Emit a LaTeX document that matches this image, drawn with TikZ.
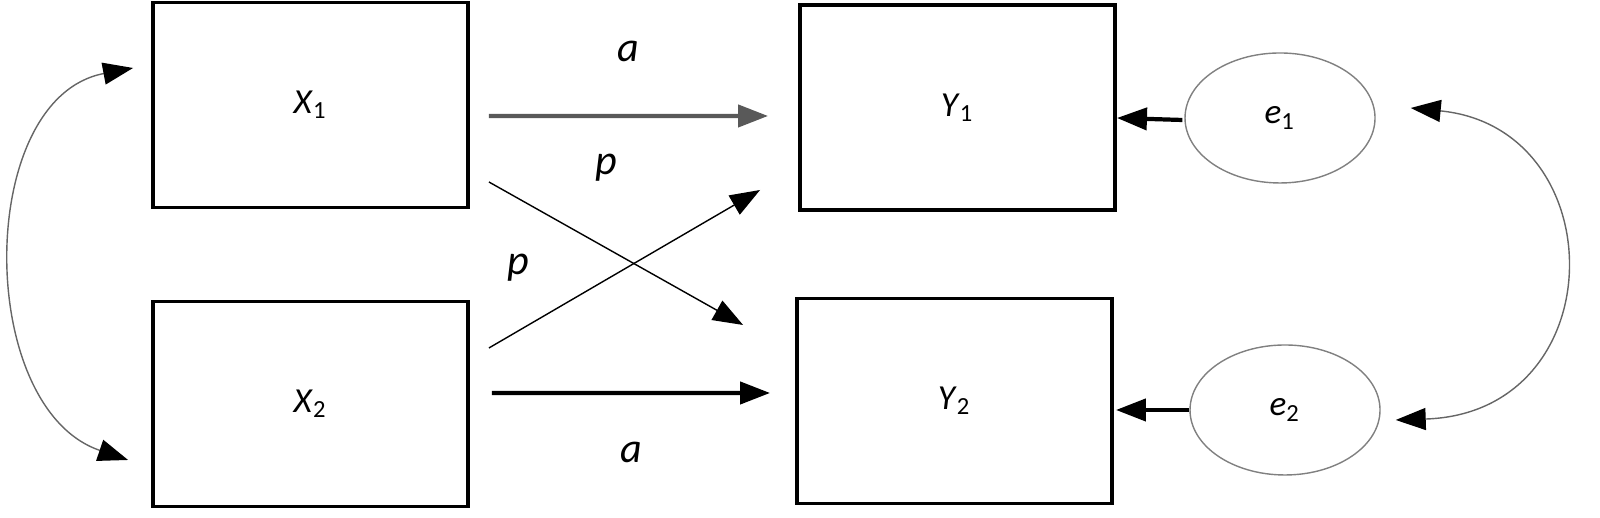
\documentclass[tikz,border=0pt]{standalone}
\usepackage{fontspec}
\setmainfont{Carlito}
\usetikzlibrary{arrows.meta,positioning,shapes.geometric}
\newcommand{\vname}[2]{\textit{#1}\textsubscript{#2}}
\tikzset{
  box/.style={draw,line width=1.1pt,minimum width=3.15cm,minimum height=2.05cm},
  err/.style={draw,gray,ellipse,minimum width=1.9cm,minimum height=1.3cm,text=black},
  path/.style={-{Triangle[length=0.3cm,width=0.22cm]}},
  cov/.style={{Triangle[length=0.3cm,width=0.22cm,black]}-{Triangle[length=0.3cm,width=0.22cm,black]},gray!80!black},
  lab/.style={font=\itshape\large,text=black}
}
\begin{document}
\begin{tikzpicture}
\useasboundingbox (0,0) rectangle (16,5.18);
\node[box] (x1) at (3.105,4.13) {\vname{X}{1}};
\node[box] (x2) at (3.105,1.14) {\vname{X}{2}};
\node[box] (y1) at (9.575,4.105) {\vname{Y}{1}};
\node[box] (y2) at (9.545,1.17) {\vname{Y}{2}};
\node[err] (e1) at (12.8,4.0) {\vname{e}{1}};
\node[err] (e2) at (12.85,1.08) {\vname{e}{2}};
% direct paths
\draw[path,line width=1.2pt,gray!70!black] ([xshift=0.19cm,yshift=-0.11cm]x1.east) -- ([xshift=-0.3cm,yshift=-0.085cm]y1.west) node[lab,midway,above=0.4cm] {a};
\draw[path,line width=1.2pt] ([xshift=0.22cm,yshift=0.11cm]x2.east) -- ([xshift=-0.25cm,yshift=0.08cm]y2.west) node[lab,midway,below=0.35cm] {a};
% cross paths
\draw[path,thin] ([xshift=0.19cm,yshift=-0.77cm]x1.east) -- ([xshift=-0.52cm,yshift=0.76cm]y2.west);
\draw[path,thin] ([xshift=0.19cm,yshift=0.56cm]x2.east) -- ([xshift=-0.38cm,yshift=-0.825cm]y1.west);
\node[lab] (p1) at (6.06,3.5) {p};
\node[lab] (p2) at (5.18,2.5) {p};
% residuals
\draw[path,line width=1.2pt] ([xshift=-0.02cm,yshift=-0.02cm]e1.west) -- (y1.east|-e1.west);
\draw[path,line width=1.2pt] (e2.west) -- ([xshift=0.02cm]y2.east|-e2.west);
% covariances
\draw[cov] ([xshift=-0.18cm,yshift=0.37cm]x1.west) .. controls (-0.25,4.2) and (-0.25,1.1) .. ([xshift=-0.23cm,yshift=-0.56cm]x2.west);
\draw[cov] ([xshift=0.35cm,yshift=0.1cm]e1.east) .. controls (16.15,3.9) and (16.15,1.05) .. ([xshift=0.15cm,yshift=-0.1cm]e2.east);
\end{tikzpicture}
\end{document}
